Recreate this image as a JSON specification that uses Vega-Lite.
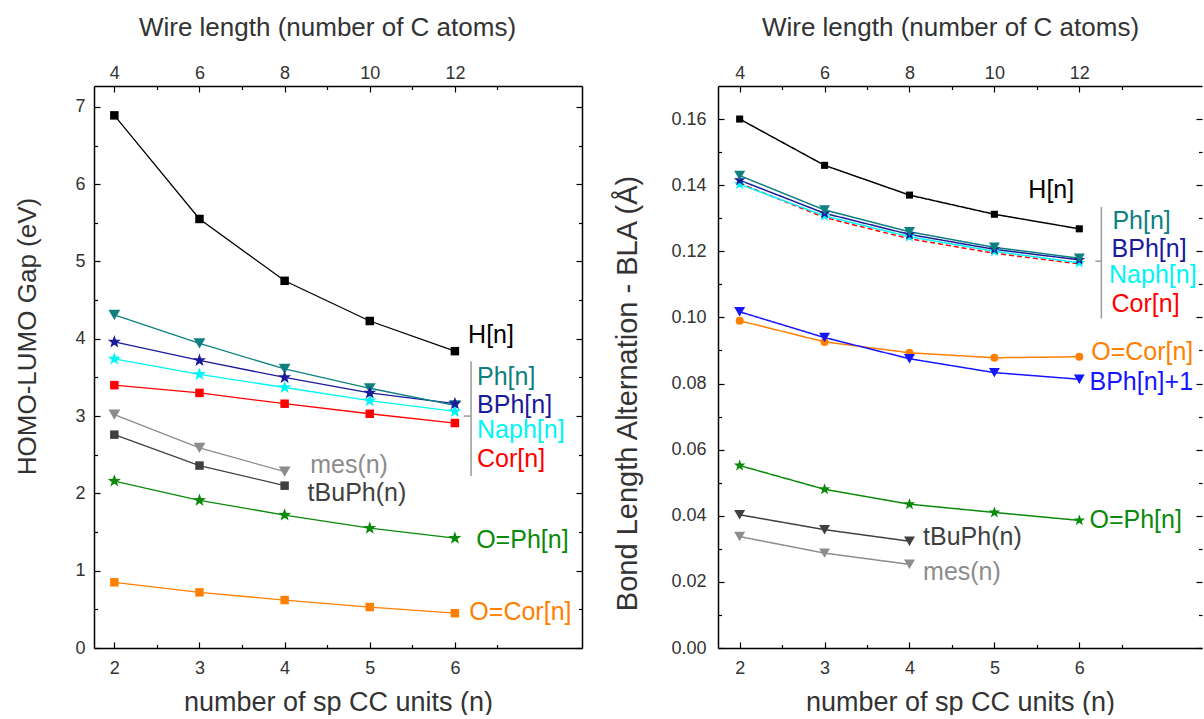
{
  "$schema": "https://vega.github.io/schema/vega-lite/v6.json",
  "padding": {"left": 14, "top": 14, "right": 0, "bottom": 0},
  "config": {
    "font": "Liberation Sans",
    "view": {"stroke": null},
    "axis": {
      "labelFont": "Liberation Sans", "titleFont": "Liberation Sans",
      "labelFontSize": 18, "titleFontSize": 26, "titleFontWeight": "normal",
      "labelColor": "#333333", "titleColor": "#333333",
      "grid": false, "tickColor": "#000000", "tickWidth": 1.2,
      "domainColor": "#000000", "domainWidth": 1.5
    }
  },
  "datasets": {
    "gap": [
      {"s": "H[n]", "n": 2, "v": 6.89}, {"s": "H[n]", "n": 3, "v": 5.55}, {"s": "H[n]", "n": 4, "v": 4.75}, {"s": "H[n]", "n": 5, "v": 4.23}, {"s": "H[n]", "n": 6, "v": 3.84},
      {"s": "Cor[n]", "n": 2, "v": 3.40}, {"s": "Cor[n]", "n": 3, "v": 3.30}, {"s": "Cor[n]", "n": 4, "v": 3.16}, {"s": "Cor[n]", "n": 5, "v": 3.03}, {"s": "Cor[n]", "n": 6, "v": 2.91},
      {"s": "Naph[n]", "n": 2, "v": 3.74}, {"s": "Naph[n]", "n": 3, "v": 3.54}, {"s": "Naph[n]", "n": 4, "v": 3.37}, {"s": "Naph[n]", "n": 5, "v": 3.20}, {"s": "Naph[n]", "n": 6, "v": 3.06},
      {"s": "BPh[n]", "n": 2, "v": 3.96}, {"s": "BPh[n]", "n": 3, "v": 3.72}, {"s": "BPh[n]", "n": 4, "v": 3.50}, {"s": "BPh[n]", "n": 5, "v": 3.30}, {"s": "BPh[n]", "n": 6, "v": 3.16},
      {"s": "Ph[n]", "n": 2, "v": 4.31}, {"s": "Ph[n]", "n": 3, "v": 3.94}, {"s": "Ph[n]", "n": 4, "v": 3.61}, {"s": "Ph[n]", "n": 5, "v": 3.36}, {"s": "Ph[n]", "n": 6, "v": 3.14},
      {"s": "mes(n)", "n": 2, "v": 3.02}, {"s": "mes(n)", "n": 3, "v": 2.59}, {"s": "mes(n)", "n": 4, "v": 2.28},
      {"s": "tBuPh(n)", "n": 2, "v": 2.76}, {"s": "tBuPh(n)", "n": 3, "v": 2.36}, {"s": "tBuPh(n)", "n": 4, "v": 2.10},
      {"s": "O=Ph[n]", "n": 2, "v": 2.16}, {"s": "O=Ph[n]", "n": 3, "v": 1.91}, {"s": "O=Ph[n]", "n": 4, "v": 1.72}, {"s": "O=Ph[n]", "n": 5, "v": 1.55}, {"s": "O=Ph[n]", "n": 6, "v": 1.42},
      {"s": "O=Cor[n]", "n": 2, "v": 0.85}, {"s": "O=Cor[n]", "n": 3, "v": 0.72}, {"s": "O=Cor[n]", "n": 4, "v": 0.62}, {"s": "O=Cor[n]", "n": 5, "v": 0.53}, {"s": "O=Cor[n]", "n": 6, "v": 0.45}
    ],
    "gapLabels": [
      {"s": "H[n]", "label": "H[n]", "n": 6.155, "v": 4.045},
      {"s": "Ph[n]", "label": "Ph[n]", "n": 6.26, "v": 3.506},
      {"s": "BPh[n]", "label": "BPh[n]", "n": 6.26, "v": 3.148},
      {"s": "Naph[n]", "label": "Naph[n]", "n": 6.26, "v": 2.816},
      {"s": "Cor[n]", "label": "Cor[n]", "n": 6.26, "v": 2.449},
      {"s": "mes(n)", "label": "mes(n)", "n": 4.3, "v": 2.365},
      {"s": "tBuPh(n)", "label": "tBuPh(n)", "n": 4.27, "v": 2.0},
      {"s": "O=Ph[n]", "label": "O=Ph[n]", "n": 6.25, "v": 1.393},
      {"s": "O=Cor[n]", "label": "O=Cor[n]", "n": 6.17, "v": 0.466}
    ],
    "gapBracket": [
      {"n": 6.19, "n2": 6.19, "v": 2.225, "v2": 3.71},
      {"n": 6.105, "n2": 6.19, "v": 3.0, "v2": 3.0}
    ],
    "bla": [
      {"s": "H[n]", "n": 2, "v": 0.160}, {"s": "H[n]", "n": 3, "v": 0.146}, {"s": "H[n]", "n": 4, "v": 0.137}, {"s": "H[n]", "n": 5, "v": 0.1312}, {"s": "H[n]", "n": 6, "v": 0.1268},
      {"s": "Cor[n]", "n": 2, "v": 0.1406}, {"s": "Cor[n]", "n": 3, "v": 0.1302}, {"s": "Cor[n]", "n": 4, "v": 0.1238}, {"s": "Cor[n]", "n": 5, "v": 0.1194}, {"s": "Cor[n]", "n": 6, "v": 0.1162},
      {"s": "Naph[n]", "n": 2, "v": 0.1403}, {"s": "Naph[n]", "n": 3, "v": 0.1307}, {"s": "Naph[n]", "n": 4, "v": 0.1244}, {"s": "Naph[n]", "n": 5, "v": 0.1200}, {"s": "Naph[n]", "n": 6, "v": 0.1165},
      {"s": "BPh[n]", "n": 2, "v": 0.1415}, {"s": "BPh[n]", "n": 3, "v": 0.1315}, {"s": "BPh[n]", "n": 4, "v": 0.1251}, {"s": "BPh[n]", "n": 5, "v": 0.1206}, {"s": "BPh[n]", "n": 6, "v": 0.1174},
      {"s": "Ph[n]", "n": 2, "v": 0.1429}, {"s": "Ph[n]", "n": 3, "v": 0.1325}, {"s": "Ph[n]", "n": 4, "v": 0.1259}, {"s": "Ph[n]", "n": 5, "v": 0.1212}, {"s": "Ph[n]", "n": 6, "v": 0.1179},
      {"s": "O=Cor[n]", "n": 2, "v": 0.0990}, {"s": "O=Cor[n]", "n": 3, "v": 0.0926}, {"s": "O=Cor[n]", "n": 4, "v": 0.0893}, {"s": "O=Cor[n]", "n": 5, "v": 0.0878}, {"s": "O=Cor[n]", "n": 6, "v": 0.0881},
      {"s": "BPh[n]+1", "n": 2, "v": 0.1017}, {"s": "BPh[n]+1", "n": 3, "v": 0.0939}, {"s": "BPh[n]+1", "n": 4, "v": 0.0875}, {"s": "BPh[n]+1", "n": 5, "v": 0.0833}, {"s": "BPh[n]+1", "n": 6, "v": 0.0813},
      {"s": "O=Ph[n]", "n": 2, "v": 0.0552}, {"s": "O=Ph[n]", "n": 3, "v": 0.0480}, {"s": "O=Ph[n]", "n": 4, "v": 0.0435}, {"s": "O=Ph[n]", "n": 5, "v": 0.0410}, {"s": "O=Ph[n]", "n": 6, "v": 0.0386},
      {"s": "tBuPh(n)", "n": 2, "v": 0.0403}, {"s": "tBuPh(n)", "n": 3, "v": 0.0358}, {"s": "tBuPh(n)", "n": 4, "v": 0.0323},
      {"s": "mes(n)", "n": 2, "v": 0.0337}, {"s": "mes(n)", "n": 3, "v": 0.0287}, {"s": "mes(n)", "n": 4, "v": 0.0253}
    ],
    "blaLabels": [
      {"s": "H[n]", "label": "H[n]", "n": 5.4, "v": 0.1385},
      {"s": "Ph[n]", "label": "Ph[n]", "n": 6.39, "v": 0.1292},
      {"s": "BPh[n]", "label": "BPh[n]", "n": 6.38, "v": 0.1208},
      {"s": "Naph[n]", "label": "Naph[n]", "n": 6.35, "v": 0.1128},
      {"s": "Cor[n]", "label": "Cor[n]", "n": 6.38, "v": 0.1042},
      {"s": "O=Cor[n]", "label": "O=Cor[n]", "n": 6.14, "v": 0.0896},
      {"s": "BPh[n]+1", "label": "BPh[n]+1", "n": 6.12, "v": 0.0806},
      {"s": "O=Ph[n]", "label": "O=Ph[n]", "n": 6.12, "v": 0.0386},
      {"s": "tBuPh(n)", "label": "tBuPh(n)", "n": 4.16, "v": 0.0336},
      {"s": "mes(n)", "label": "mes(n)", "n": 4.16, "v": 0.023}
    ],
    "blaBracket": [
      {"n": 6.26, "n2": 6.26, "v": 0.0997, "v2": 0.1334},
      {"n": 6.19, "n2": 6.26, "v": 0.117, "v2": 0.117}
    ]
  },
  "hconcat": [
    {
      "width": 488, "height": 562,
      "resolve": {"axis": {"x": "independent", "y": "independent"}},
      "layer": [
        {
          "data": {"name": "gap"},
          "mark": {"type": "line", "strokeWidth": 1.3},
          "encoding": {
            "x": {"field": "n", "type": "quantitative", "scale": {"domain": [1.761, 7.493], "nice": false, "zero": false},
                  "axis": {"orient": "bottom", "values": [2, 3, 4, 5, 6], "tickSize": -6, "labelPadding": 17, "domain": true, "title": "number of sp CC units (n)", "titleFontSize": 27, "titlePadding": 12}},
            "y": {"field": "v", "type": "quantitative", "scale": {"domain": [0, 7.27], "nice": false, "zero": false},
                  "axis": {"orient": "left", "values": [0, 1, 2, 3, 4, 5, 6, 7], "tickSize": -6, "labelPadding": 15, "domain": true, "title": "HOMO-LUMO Gap (eV)", "titleFontSize": 26, "titlePadding": 34, "titleY": 250}},
            "color": {"field": "s", "type": "nominal", "legend": null,
                      "scale": {"domain": ["H[n]", "Ph[n]", "BPh[n]", "Naph[n]", "Cor[n]", "mes(n)", "tBuPh(n)", "O=Ph[n]", "O=Cor[n]"],
                                "range": ["#000000", "#0e8080", "#1a1a9c", "#00f5f5", "#ff0000", "#8c8c8c", "#404040", "#0a8a0a", "#ff8000"]}}
          }
        },
        {
          "data": {"name": "gap"},
          "transform": [{"filter": {"field": "s", "oneOf": ["H[n]", "Cor[n]", "tBuPh(n)", "O=Cor[n]"]}}],
          "mark": {"type": "point", "shape": "square", "filled": true, "opacity": 1, "size": 72},
          "encoding": {
            "x": {"field": "n", "type": "quantitative", "axis": null},
            "y": {"field": "v", "type": "quantitative", "axis": null},
            "color": {"field": "s", "type": "nominal", "legend": null}
          }
        },
        {
          "data": {"name": "gap"},
          "transform": [{"filter": {"field": "s", "oneOf": ["Ph[n]", "mes(n)"]}}],
          "mark": {"type": "point", "shape": "triangle-down", "filled": true, "opacity": 1, "size": 140},
          "encoding": {
            "x": {"field": "n", "type": "quantitative", "axis": null},
            "y": {"field": "v", "type": "quantitative", "axis": null},
            "color": {"field": "s", "type": "nominal", "legend": null}
          }
        },
        {
          "data": {"name": "gap"},
          "transform": [{"filter": {"field": "s", "oneOf": ["BPh[n]", "Naph[n]", "O=Ph[n]"]}}],
          "mark": {"type": "point", "shape": "M0,-1L0.235,-0.324L0.951,-0.309L0.38,0.124L0.588,0.809L0,0.4L-0.588,0.809L-0.38,0.124L-0.951,-0.309L-0.235,-0.324Z", "filled": true, "opacity": 1, "size": 190},
          "encoding": {
            "x": {"field": "n", "type": "quantitative", "axis": null},
            "y": {"field": "v", "type": "quantitative", "axis": null},
            "color": {"field": "s", "type": "nominal", "legend": null}
          }
        },
        {
          "data": {"name": "gapBracket"},
          "mark": {"type": "rule", "color": "#9a9a9a", "strokeWidth": 1.5},
          "encoding": {
            "x": {"field": "n", "type": "quantitative", "axis": null},
            "x2": {"field": "n2"},
            "y": {"field": "v", "type": "quantitative", "axis": null},
            "y2": {"field": "v2"}
          }
        },
        {
          "data": {"name": "gapLabels"},
          "mark": {"type": "text", "align": "left", "baseline": "middle", "fontSize": 25, "font": "Liberation Sans"},
          "encoding": {
            "x": {"field": "n", "type": "quantitative", "axis": null},
            "y": {"field": "v", "type": "quantitative", "axis": null},
            "text": {"field": "label"},
            "color": {"field": "s", "type": "nominal", "legend": null}
          }
        },
        {
          "data": {"name": "gap"},
          "mark": {"type": "point", "opacity": 0},
          "encoding": {
            "x": {"field": "n", "type": "quantitative",
                  "axis": {"orient": "top", "values": [2, 3, 4, 5, 6], "labelExpr": "datum.value * 2", "tickSize": -6, "labelPadding": 10, "domain": true, "title": "Wire length (number of C atoms)", "titleFontSize": 26, "titlePadding": 24, "titleX": 233}},
            "y": {"field": "v", "type": "quantitative",
                  "axis": {"orient": "right", "values": [0, 1, 2, 3, 4, 5, 6, 7], "tickSize": -6, "labels": false, "domain": true, "title": null}}
          }
        },
        {
          "data": {"name": "gap"},
          "mark": {"type": "point", "opacity": 0},
          "encoding": {
            "x": {"field": "n", "type": "quantitative",
                  "axis": {"orient": "bottom", "values": [2.5, 3.5, 4.5, 5.5, 6.5], "tickSize": -3.5, "labels": false, "domain": false, "title": null}},
            "y": {"field": "v", "type": "quantitative",
                  "axis": {"orient": "left", "values": [0.5, 1.5, 2.5, 3.5, 4.5, 5.5, 6.5], "tickSize": -3.5, "labels": false, "domain": false, "title": null}}
          }
        },
        {
          "data": {"name": "gap"},
          "mark": {"type": "point", "opacity": 0},
          "encoding": {
            "x": {"field": "n", "type": "quantitative",
                  "axis": {"orient": "top", "values": [2.5, 3.5, 4.5, 5.5, 6.5], "tickSize": -3.5, "labels": false, "domain": false, "title": null}},
            "y": {"field": "v", "type": "quantitative",
                  "axis": {"orient": "right", "values": [0.5, 1.5, 2.5, 3.5, 4.5, 5.5, 6.5], "tickSize": -3.5, "labels": false, "domain": false, "title": null}}
          }
        }
      ]
    },
    {
      "width": 484, "height": 562,
      "resolve": {"axis": {"x": "independent", "y": "independent"}},
      "layer": [
        {
          "data": {"name": "bla"},
          "mark": {"type": "line", "strokeWidth": 1.5},
          "encoding": {
            "x": {"field": "n", "type": "quantitative", "scale": {"domain": [1.745, 7.445], "nice": false, "zero": false},
                  "axis": {"orient": "bottom", "values": [2, 3, 4, 5, 6], "tickSize": -6, "labelPadding": 17, "domain": true, "title": "number of sp CC units (n)", "titleFontSize": 27, "titlePadding": 12}},
            "y": {"field": "v", "type": "quantitative", "scale": {"domain": [0, 0.17], "nice": false, "zero": false},
                  "axis": {"orient": "left", "values": [0, 0.02, 0.04, 0.06, 0.08, 0.1, 0.12, 0.14, 0.16], "format": ".2f", "tickSize": -6, "labelPadding": 18, "domain": true, "title": "Bond Length Alternation - BLA (Å)", "titleFontSize": 29, "titlePadding": 28, "titleY": 307}},
            "color": {"field": "s", "type": "nominal", "legend": null,
                      "scale": {"domain": ["H[n]", "Cor[n]", "Naph[n]", "BPh[n]", "Ph[n]", "O=Cor[n]", "BPh[n]+1", "O=Ph[n]", "tBuPh(n)", "mes(n)"],
                                "range": ["#000000", "#ff0000", "#00f5f5", "#1a1a9c", "#0e8080", "#ff8000", "#1515ff", "#0a8a0a", "#404040", "#8c8c8c"]}},
            "strokeDash": {"field": "s", "type": "nominal", "legend": null,
                           "scale": {"domain": ["H[n]", "Cor[n]", "Naph[n]", "BPh[n]", "Ph[n]", "O=Cor[n]", "BPh[n]+1", "O=Ph[n]", "tBuPh(n)", "mes(n)"],
                                     "range": [[1, 0], [5, 3], [1, 0], [1, 0], [1, 0], [1, 0], [1, 0], [1, 0], [1, 0], [1, 0]]}}
          }
        },
        {
          "data": {"name": "bla"},
          "transform": [{"filter": {"field": "s", "oneOf": ["H[n]"]}}],
          "mark": {"type": "point", "shape": "square", "filled": true, "opacity": 1, "size": 50},
          "encoding": {
            "x": {"field": "n", "type": "quantitative", "axis": null},
            "y": {"field": "v", "type": "quantitative", "axis": null},
            "color": {"field": "s", "type": "nominal", "legend": null}
          }
        },
        {
          "data": {"name": "bla"},
          "transform": [{"filter": {"field": "s", "oneOf": ["O=Cor[n]"]}}],
          "mark": {"type": "point", "shape": "circle", "filled": true, "opacity": 1, "size": 64},
          "encoding": {
            "x": {"field": "n", "type": "quantitative", "axis": null},
            "y": {"field": "v", "type": "quantitative", "axis": null},
            "color": {"field": "s", "type": "nominal", "legend": null}
          }
        },
        {
          "data": {"name": "bla"},
          "transform": [{"filter": {"field": "s", "oneOf": ["Naph[n]", "BPh[n]", "O=Ph[n]"]}}],
          "mark": {"type": "point", "shape": "M0,-1L0.235,-0.324L0.951,-0.309L0.38,0.124L0.588,0.809L0,0.4L-0.588,0.809L-0.38,0.124L-0.951,-0.309L-0.235,-0.324Z", "filled": true, "opacity": 1, "size": 150},
          "encoding": {
            "x": {"field": "n", "type": "quantitative", "axis": null},
            "y": {"field": "v", "type": "quantitative", "axis": null},
            "color": {"field": "s", "type": "nominal", "legend": null}
          }
        },
        {
          "data": {"name": "bla"},
          "transform": [{"filter": {"field": "s", "oneOf": ["Ph[n]", "BPh[n]+1", "tBuPh(n)", "mes(n)"]}}],
          "mark": {"type": "point", "shape": "triangle-down", "filled": true, "opacity": 1, "size": 120},
          "encoding": {
            "x": {"field": "n", "type": "quantitative", "axis": null},
            "y": {"field": "v", "type": "quantitative", "axis": null},
            "color": {"field": "s", "type": "nominal", "legend": null}
          }
        },
        {
          "data": {"name": "blaBracket"},
          "mark": {"type": "rule", "color": "#9a9a9a", "strokeWidth": 1.5},
          "encoding": {
            "x": {"field": "n", "type": "quantitative", "axis": null},
            "x2": {"field": "n2"},
            "y": {"field": "v", "type": "quantitative", "axis": null},
            "y2": {"field": "v2"}
          }
        },
        {
          "data": {"name": "blaLabels"},
          "mark": {"type": "text", "align": "left", "baseline": "middle", "fontSize": 25, "font": "Liberation Sans", "clip": true},
          "encoding": {
            "x": {"field": "n", "type": "quantitative", "axis": null},
            "y": {"field": "v", "type": "quantitative", "axis": null},
            "text": {"field": "label"},
            "color": {"field": "s", "type": "nominal", "legend": null}
          }
        },
        {
          "data": {"name": "bla"},
          "mark": {"type": "point", "opacity": 0},
          "encoding": {
            "x": {"field": "n", "type": "quantitative",
                  "axis": {"orient": "top", "values": [2, 3, 4, 5, 6], "labelExpr": "datum.value * 2", "tickSize": -6, "labelPadding": 10, "domain": true, "title": "Wire length (number of C atoms)", "titleFontSize": 26, "titlePadding": 24, "titleX": 232}},
            "y": {"field": "v", "type": "quantitative",
                  "axis": {"orient": "right", "values": [0, 0.02, 0.04, 0.06, 0.08, 0.1, 0.12, 0.14, 0.16], "tickSize": -6, "labels": false, "domain": false, "title": null}}
          }
        },
        {
          "data": {"name": "bla"},
          "mark": {"type": "point", "opacity": 0},
          "encoding": {
            "x": {"field": "n", "type": "quantitative",
                  "axis": {"orient": "bottom", "values": [2.5, 3.5, 4.5, 5.5, 6.5], "tickSize": -3.5, "labels": false, "domain": false, "title": null}},
            "y": {"field": "v", "type": "quantitative",
                  "axis": {"orient": "left", "values": [0.01, 0.03, 0.05, 0.07, 0.09, 0.11, 0.13, 0.15], "tickSize": -3.5, "labels": false, "domain": false, "title": null}}
          }
        },
        {
          "data": {"name": "bla"},
          "mark": {"type": "point", "opacity": 0},
          "encoding": {
            "x": {"field": "n", "type": "quantitative",
                  "axis": {"orient": "top", "values": [2.5, 3.5, 4.5, 5.5, 6.5], "tickSize": -3.5, "labels": false, "domain": false, "title": null}},
            "y": {"field": "v", "type": "quantitative",
                  "axis": {"orient": "right", "values": [0.01, 0.03, 0.05, 0.07, 0.09, 0.11, 0.13, 0.15], "tickSize": -3.5, "labels": false, "domain": false, "title": null}}
          }
        }
      ]
    }
  ],
  "spacing": 30,
  "resolve": {"scale": {"x": "independent", "y": "independent", "color": "independent", "strokeDash": "independent"}}
}
